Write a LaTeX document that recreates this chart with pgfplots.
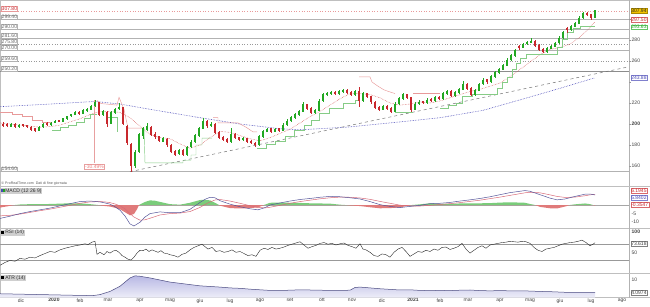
\documentclass[border=0pt]{standalone}
\usepackage{pgfplots}
\pgfplotsset{compat=1.18}
\usepackage{pgfplotstable}
\usepackage{fontspec}
\setmainfont{Liberation Sans}

\definecolor{cgreen}{HTML}{22A822}
\definecolor{cred}{HTML}{C8282D}
\definecolor{sred}{HTML}{E89A9A}
\definecolor{sgreen}{HTML}{86CC86}
\definecolor{mared}{HTML}{D04848}
\definecolor{mablue}{HTML}{4A4AB8}
\definecolor{macdblue}{HTML}{55559A}
\definecolor{sigred}{HTML}{D86A78}
\definecolor{hgreen}{HTML}{7ACC7A}
\definecolor{hred}{HTML}{E07A7A}
\definecolor{atrfill}{HTML}{B8B8E4}
\definecolor{atrline}{HTML}{4A4A80}
\definecolor{lblgray}{HTML}{CFCFCF}
\definecolor{ylw}{HTML}{F2C200}
\definecolor{pinkm}{HTML}{E8A0A0}

% up candles (close >= open)
\pgfplotstableread{
x o h l c
11 197.8 201 197 199.5
19 197 200.3 196.2 199
39 193.8 198 193 197
43 197 201 196.3 200
51 199 202 198.5 201
55 201 204 200.5 203
63 202.5 206 202 205
67 205 208 204.2 207
71 207.5 210 206.5 209
75 209 212 208.2 211
83 210 214 209.3 213
87 213.5 215.5 211.8 214
91 214 218.2 213.3 217
95 217 222.4 216.2 221
103 209 213.5 208 212
111 200.5 212 200 211
115 211 215.5 210 214
119 214.5 220 213.5 216
135 160 175.5 158 173
139 173.5 191.5 172 190
143 189 197.5 186 196
147 195 201 193.5 198
163 183.5 188 182.5 186
179 171.5 176.5 170.5 175
187 171 179.5 170 178
191 178 184.5 177 183
195 183 190.5 182 189
199 189 197.5 188 196
203 196 205.7 195 203
211 198 201.5 196.8 200
231 183 196 182 190
243 185 187.5 183.8 186
259 180 189.5 179.5 188
263 188 194.5 187 193
267 193 196.5 192 195
275 193 196.5 192 195
283 194 200.5 193.2 199
287 199 204.5 198 203
291 203 207.5 202 206
295 206 210.5 205 209
299 209 213.5 208 212
303 212 220.5 211 219
315 211 214.5 209.8 213
319 213 223.5 212 222
323 222 229.5 221 228
327 228 230.5 226.5 229
331 229 231.5 227.8 230
339 229 232.3 228 231
343 231 233.5 230 232
355 228 232.5 227 231
363 222 230.5 221 229
383 214 218.5 213 217
395 212 220.5 211 219
399 219 225.5 218 224
403 224 229.5 223 228
415 214 220.5 213 219
419 219 222.5 218 221
427 220 224.5 219 223
435 222 226.5 221 225
443 224 230.5 223 229
447 229 232.5 228 231
455 227 231.5 226 230
459 230 234.5 229 233
463 233 241 232 238
475 228 233.5 227 232
479 232 239.5 231 238
483 238 243.5 237 242
491 240 246.5 239 245
495 245 250.5 244 249
499 249 253.5 248 252
503 252 257.5 251 256
507 256 262.5 255 261
511 261 266.5 260 265
515 265 271.5 264 270
523 273 277.5 272 276
527 276.5 279.5 275 278
531 278 282 277 279
547 269 273.5 268 272
551 272 275.5 271 274
555 274 278.5 273 277
559 277 283.5 276 282
563 282 288.5 281 287
571 290 294.5 289 293
575 293 297.5 292 296
579 296 302.5 295 301
583 301 306.5 300 305
595 301 308.5 300.5 307.94
}\candup

% down candles (close < open)
\pgfplotstableread{
x o h l c
3 200 201.5 197.5 199
7 199.5 200.5 196.8 198
15 199.8 200.5 196 197
23 199.5 200.4 197 198
27 198.3 199 196 197
31 197.2 198 193.8 195
35 195.5 196 192.5 194
47 200.5 201.5 198 199
59 203.3 204.2 201.5 202.5
79 211.5 212.3 208.8 210
99 220.5 221 207.5 209
107 211.5 212.2 197 200
123 215.5 216.5 199 200
127 198 199 180 182
131 181 182 154.6 160
151 197 198 188.5 190
155 190.5 192 186 188
159 188 189 182.5 184
167 185.5 186.5 178.5 180
171 180 181 172.5 174
175 174 175 169.5 171
183 175 176 169.5 171
207 202.5 204 196.5 198
215 200 201 190.5 192
219 192 193 185.5 187
223 187.5 188.5 184 185
227 185.5 186.5 181.5 183
235 190 191 185.5 187
239 187 188 184 185
247 186 187 181.5 183
251 183.5 184.5 180.5 182
255 182 183 178 180
271 195.5 196.5 191.5 193
279 195.5 196.5 192.8 194
307 218.5 219.5 213.5 215
311 215 216 209.5 211
335 230.2 231 227.5 229
347 232 233 228.8 230
351 230 231 226.5 228
359 231 235 216 222
367 229 230 224.5 226
371 226 227 219.5 221
375 221 222 214.5 216
379 216 217 212.5 214
387 217 218 213.5 215
391 215 216 210.5 212
407 228 229 223.5 225
411 225 226 211 214
423 221.3 222.3 218.8 220
431 223.3 224.3 220.8 222
439 225.3 226.3 222.8 224
451 231 232 225.5 227
467 238 239 232.5 234
471 234 235 226.5 228
487 242.3 243.3 238.5 240
519 274.2 275.2 270.5 273
535 279 280 273.5 275
539 275 276 269.5 271
543 271 272 267.5 269
567 291 292 286.5 290
587 305.3 306.5 302.8 304
591 304 305 299.5 301
}\canddn

\tikzset{
  rlab/.style={anchor=west, inner sep=0.5pt, text=black!75, font=\fontsize{5}{6}\selectfont},
  rbox/.style={anchor=west, inner sep=0.6pt, draw, fill=white, line width=0.3pt, font=\fontsize{5}{6}\selectfont},
  llab/.style={anchor=south west, inner sep=0.6pt, draw=black!30, line width=0.3pt, fill=white, text=black!60, font=\fontsize{5}{6}\selectfont},
  plab/.style={anchor=north west, fill=lblgray, inner sep=0.8pt, text=black!80, font=\fontsize{5}{6}\selectfont},
}
\pgfplotsset{
  panel/.style={scale only axis, width=650pt, xmin=0, xmax=650, clip=false,
    axis line style={draw=black!25, line width=0.4pt}, xtick=\empty, ytick=\empty, anchor=south west},
  lvl/.style={black!30, line width=1pt},
  lvld/.style={black!40, dotted, line width=0.6pt},
  candlewick/.style={only marks, mark=text, text mark={}, forget plot,
    error bars/.cd, y dir=both, y explicit, error mark=none, error bar style={draw=#1, line width=0.45pt, solid}},
  candlebody/.style={only marks, mark=text, text mark={}, forget plot,
    error bars/.cd, y dir=both, y explicit, error mark=none, error bar style={draw=#1, line width=2.0pt, solid}},
}

\begin{document}
\begin{tikzpicture}[font=\fontsize{5}{6}\selectfont]
\useasboundingbox (0,0) rectangle (650pt,306pt);

% ================= MAIN PRICE PANEL =================
\begin{axis}[panel, at={(0pt,119.5pt)}, height=186.5pt, ymin=140.48, ymax=318.1]
% horizontal levels
\addplot[lvl] coordinates {(0,299.4)(629,299.4)};
\addplot[lvl] coordinates {(0,290)(629,290)};
\addplot[lvl] coordinates {(0,281.6)(629,281.6)};
\addplot[lvld] coordinates {(0,275.8)(629,275.8)};
\addplot[lvl] coordinates {(0,270)(629,270)};
\addplot[lvld] coordinates {(0,259.6)(629,259.6)};
\addplot[black!45, line width=1.1pt] coordinates {(0,250.2)(629,250.2)};
\addplot[lvl] coordinates {(0,154.6)(629,154.6)};
\addplot[sred, dotted, line width=0.6pt] coordinates {(0,307.8)(629,307.8)};

% long moving average (blue dotted)
\addplot[mablue, densely dotted, line width=0.6pt] coordinates {
(0,216.5)(50,219)(95,221.5)(120,219)(150,214)(200,206)(240,200)(280,195.5)(300,194.5)
(347,197)(400,202)(440,206)(483,213)(520,223)(560,234)(595,244)};

% trend line (gray dashed)
\addplot[black!55, dashed, line width=0.5pt] coordinates {(130,154.6)(628,254.3)};

% short moving average (red dotted)
\addplot[mared, densely dotted, line width=0.5pt] coordinates {
(0,201)(10,200)(20,199)(30,198)(40,197)(50,197.5)(60,199)(70,202)(80,205)(90,209)
(100,212)(110,212)(120,211)(130,206)(140,198)(150,190)(160,187)(170,186)(180,181)(190,177)
(200,180)(210,187)(220,193)(230,192)(240,189)(250,186)(260,184)(270,187)(280,191)(290,195)
(300,201)(310,207)(320,212)(330,218)(340,224)(350,229)(360,229)(370,228)(380,225)(390,220)
(400,218)(410,219)(420,221)(430,220)(440,222)(450,225)(460,228)(470,231)(480,233)(490,236)
(500,239)(510,245)(520,252)(530,259)(540,266)(550,271)(560,273)(570,276)(580,283)(590,292)(595,297.5)};

% trailing step lines
\addplot[sred, line width=0.45pt] coordinates {(0,211.5)(12,211.5)(12,209.5)(22,209.5)(22,207)(32,207)(32,204)(42,204)(42,202)(52,202)};
\addplot[sgreen, line width=0.45pt] coordinates {(52,194.3)(60,194.3)(60,196.5)(68,196.5)(68,199)(76,199)(76,202)(84,202)(84,205.5)(90,205.5)(90,209)(97,209)};
\addplot[sred, line width=0.45pt] coordinates {(97,222.4)(101,219.5)(117,218)(119,225.5)(124,214)(128,196)(144,196)};
\addplot[sgreen, line width=0.45pt] coordinates {(108,206)(117,206)(117,192)};
\addplot[sgreen, line width=0.45pt] coordinates {(144,196)(145,163)(183,163)(183,165.5)(191,165.5)(191,170.5)(196,170.5)(196,180)(202,180)(202,186.5)(212,186.5)};
\addplot[sred, line width=0.45pt] coordinates {(213,206)(218,206)(218,201)(238,201)(246,197)(253,192.5)(257,192.5)};
\addplot[sgreen, line width=0.45pt] coordinates {(257,177)(266,177)(266,181)(275,181)(275,184)(285,184)(285,188)(294,188)(294,194)(304,194)(304,199)(311,199)(311,204)(319,204)(319,210)(329,210)(329,215)(343,215)(343,220)(355,220)(355,223)(359,223)};
\addplot[sred, line width=0.45pt] coordinates {(359,244.8)(370,244.8)(372,240)(378,236)(384,232.5)(390,230.5)(395,229)};
\addplot[sgreen, line width=0.45pt] coordinates {(395,211.4)(413,211.4)};
\addplot[sred, line width=0.45pt] coordinates {(413,229.5)(440,229.5)};
\addplot[sgreen, line width=0.45pt] coordinates {(440,215)(448,215)(448,218)(456,218)(456,220)(462,220)(462,226)(472,226)(472,228)(497,228)(497,234)(502,234)(502,240)(507,240)(507,245)(512,245)(512,252)(516,252)(516,258)(520,258)(520,263)(526,263)(526,266)(557,266)(557,273)(562,273)(562,281)(567,281)(567,287)(573,287)(573,291)(580,291)(580,293.6)(595,293.6)};

% measurement line
\addplot[pinkm, line width=0.5pt] coordinates {(94,222.4)(94,162.9)};

% candlesticks
\addplot[candlewick=cgreen] table[x=x, y expr={(\thisrow{h}+\thisrow{l})/2}, y error expr={(\thisrow{h}-\thisrow{l})/2}] {\candup};
\addplot[candlewick=cred] table[x=x, y expr={(\thisrow{h}+\thisrow{l})/2}, y error expr={(\thisrow{h}-\thisrow{l})/2}] {\canddn};
\addplot[candlebody=cgreen] table[x=x, y expr={(\thisrow{o}+\thisrow{c})/2}, y error expr={(\thisrow{c}-\thisrow{o})/2+0.3}] {\candup};
\addplot[candlebody=cred] table[x=x, y expr={(\thisrow{o}+\thisrow{c})/2}, y error expr={(\thisrow{o}-\thisrow{c})/2+0.3}] {\canddn};

% scale separator and ticks
\draw[black!30, line width=0.4pt] (axis cs:629,140.48) -- (axis cs:629,318.1);
\pgfplotsinvokeforeach{160,180,200,220,240,260,280,300}{\draw[black!40, line width=0.3pt] (axis cs:629,#1) -- (axis cs:631,#1);}

% right price labels
\node[rlab] at (axis cs:631,280) {280};
\node[rlab] at (axis cs:631,260) {260};
\node[rlab] at (axis cs:631,220) {220};
\node[rlab, font=\fontsize{5}{6}\selectfont\bfseries] at (axis cs:631,200) {200};
\node[rlab] at (axis cs:631,180) {180};
\node[rlab] at (axis cs:631,160) {160};
\node[rbox, fill=ylw, draw=ylw!70!black, text=black!85] at (axis cs:630.5,307.94) {307.94};
\node[rbox, draw=cred!70, text=cred] at (axis cs:630.5,299.6) {297.50};
\node[rbox, draw=cgreen!70, text=cgreen] at (axis cs:630.5,292.2) {293.63};
\node[rbox, draw=mablue!70, text=mablue] at (axis cs:630.5,244.3) {243.88};

% left level labels
\node[llab, draw=sred, text=cred] at (axis cs:1,307.8) {307.80};
\node[llab] at (axis cs:1,299.4) {299.40};
\node[llab] at (axis cs:1,290) {290.00};
\node[llab] at (axis cs:1,281.6) {281.60};
\node[llab] at (axis cs:1,275.8) {275.80};
\node[llab] at (axis cs:1,270) {270.00};
\node[llab] at (axis cs:1,259.6) {259.60};
\node[llab] at (axis cs:1,250.2) {250.20};
\node[llab] at (axis cs:1,154.6) {154.60};

% measurement box
\node[draw=pinkm, fill=white, text=pinkm!80!red, inner sep=0.8pt, line width=0.4pt, font=\fontsize{5}{6}\selectfont] at (axis cs:94.5,159) {-30.49\%};

% copyright
\node[anchor=west, inner sep=0.3pt, text=black!65, font=\fontsize{3.6}{4}\selectfont] at (axis cs:1,143.6) {\copyright\ ProRealTime.com\ \ Dati di fine giornata};
\end{axis}

% ================= MACD PANEL =================
\begin{axis}[panel, at={(0pt,78pt)}, height=41.5pt, ymin=-13.37, ymax=10.76]
\addplot[black!35, line width=0.5pt] coordinates {(0,0)(629,0)};
\addplot[fill=hgreen, draw=none] coordinates {
(15,0)(20,0.3)(30,0.5)(40,0.5)(50,0.6)(60,0.8)(70,1.0)(80,1.0)(90,0.5)(98,0)
(139,0)(145,1.8)(150,2.7)(155,2.5)(160,1.8)(170,0.5)(180,0.2)(190,1.3)(200,2.9)(205,3.0)(210,2.7)(215,1.3)(219,0)
(264,0)(270,1.3)(280,1.4)(290,1.3)(300,1.2)(310,1.0)(320,0.9)(330,0.8)(340,0.2)(345,0)
(412,0)(420,0.4)(430,1.0)(440,0.7)(450,0.7)(460,0.9)(470,0.9)(480,1.0)(490,1.1)(500,1.4)(510,1.6)(520,1.4)(525,1.3)(530,0.6)(535,0)
(570,0)(575,0.4)(585,0.9)(590,0.5)(593,0)};
\addplot[fill=hred, draw=none] coordinates {
(0,0)(0,-1.5)(10,-0.5)(15,0)
(98,0)(100,-0.2)(105,-0.6)(110,-0.9)(115,-1.6)(120,-2.5)(125,-4.2)(130,-6.0)(134,-5.2)(137,-2.5)(139,0)
(219,0)(220,-0.4)(230,-1.8)(240,-2.0)(250,-1.8)(258,-1.4)(264,0)
(345,0)(350,-0.3)(360,-0.6)(370,-1.3)(380,-1.9)(390,-1.8)(400,-1.4)(410,-0.2)(412,0)
(535,0)(540,-1.1)(550,-1.9)(557,-2.0)(565,-0.9)(570,0)
(593,0)(595,-0.35)(595,0)};
% signal
\addplot[sigred, line width=0.5pt] coordinates {
(0,-6.3)(10,-6.0)(20,-5.3)(30,-4.3)(40,-3.3)(50,-2.4)(60,-1.3)(70,-0.2)(80,1.0)(90,1.8)
(100,2.0)(105,1.8)(110,1.4)(115,0.6)(120,-0.5)(125,-2.2)(130,-5.0)(134,-7.0)(140,-8.8)(145,-8.6)
(150,-7.7)(160,-5.8)(170,-5.0)(180,-4.7)(190,-3.8)(200,-1.4)(205,0.3)(210,1.8)(215,2.9)(220,3.2)
(230,2.3)(240,1.0)(250,-0.4)(258,-1.4)(265,-1.7)(270,-1.3)(280,-0.2)(290,1.0)(300,2.0)(310,2.8)
(320,3.6)(330,4.2)(340,4.6)(350,4.5)(360,4.1)(370,3.3)(380,2.1)(390,1.0)(400,-0.1)(410,-0.6)
(420,-0.6)(430,-0.2)(440,0.3)(450,0.8)(460,1.4)(470,2.1)(480,2.8)(490,3.7)(500,4.6)(510,5.6)
(520,6.6)(525,7.1)(530,7.4)(540,7.1)(550,5.9)(557,5.0)(565,4.4)(575,4.6)(585,5.4)(590,5.9)(595,6.19)};
% macd
\addplot[macdblue, line width=0.5pt] coordinates {
(0,-7.8)(10,-6.5)(20,-5.0)(30,-3.8)(40,-2.8)(50,-1.8)(60,-0.5)(70,0.8)(80,2.0)(90,2.3)
(100,1.8)(105,1.2)(110,0.5)(115,-1.0)(120,-3.0)(125,-6.4)(130,-11.0)(134,-12.2)(140,-10.0)(145,-7.0)
(150,-5.0)(160,-4.0)(170,-4.5)(180,-4.5)(190,-2.5)(200,1.5)(205,3.3)(210,4.5)(215,4.2)(220,2.5)
(230,0.5)(240,-1.0)(250,-2.2)(258,-2.8)(265,-1.5)(270,0.0)(280,1.2)(290,2.3)(300,3.2)(310,3.8)
(320,4.5)(330,5.0)(340,4.8)(350,4.2)(360,3.5)(370,2.0)(380,0.2)(390,-0.8)(400,-1.5)(410,-0.8)
(420,-0.2)(430,0.8)(440,1.0)(450,1.5)(460,2.3)(470,3.0)(480,3.8)(490,4.8)(500,6.0)(510,7.2)
(520,8.0)(525,8.4)(530,8.0)(540,6.0)(550,4.0)(557,3.0)(565,3.5)(575,5.0)(585,6.3)(590,6.4)(595,5.84)};
\draw[black!30, line width=0.4pt] (axis cs:629,-13.37) -- (axis cs:629,10.76);
\node[plab] at (axis cs:0.5,10.2) {\textcolor{mablue}{\rule{1.5pt}{3.2pt}}\textcolor{cgreen}{\rule{1.5pt}{3.2pt}}\,MACD (12 26 9)};
\node[rbox, draw=cred!70, text=cred] at (axis cs:630.5,8.3) {6.1945};
\node[rbox, draw=mablue!70, text=mablue] at (axis cs:630.5,4.3) {5.8402};
\node[rbox, draw=cred!70, text=cred] at (axis cs:630.5,0.3) {-0.3547};
\node[rlab] at (axis cs:631,-5) {-5};
\node[rlab] at (axis cs:631,-10) {-10};
\end{axis}

% ================= RSI PANEL =================
\begin{axis}[panel, at={(0pt,32.5pt)}, height=45.5pt, ymin=-2.2, ymax=109.85]
\addplot[black!40, line width=0.8pt] coordinates {(0,70)(629,70)};
\addplot[black!40, line width=0.8pt] coordinates {(0,30)(629,30)};
\addplot[black!85, line width=0.4pt] coordinates {
(0,18)(5,25)(10,30)(15,28)(20,35)(25,33)(30,38)(35,36)(40,42)(45,47)(50,52)(55,50)(60,56)(65,60)
(70,63)(75,66)(80,68)(85,71)(88,69)(92,75)(95,77)(97,45)(100,50)(104,44)(107,52)(110,48)(113,53)
(116,55)(119,50)(122,42)(125,38)(128,33)(131,31)(134,38)(137,48)(140,55)(143,54)(146,58)(149,52)
(152,56)(155,53)(158,50)(161,54)(164,48)(167,47)(170,44)(174,42)(178,38)(182,45)(186,48)(190,56)
(194,62)(198,66)(202,70)(205,64)(208,58)(212,62)(216,52)(220,54)(224,50)(228,52)(232,56)(236,50)
(240,52)(244,47)(248,42)(252,44)(256,40)(260,55)(264,60)(268,57)(272,62)(276,58)(280,60)(284,63)
(288,67)(292,70)(296,73)(300,76)(304,68)(308,60)(312,64)(316,67)(320,72)(324,74)(328,70)(332,72)
(336,68)(340,71)(344,73)(348,67)(352,64)(356,60)(360,71)(363,58)(366,56)(370,50)(374,42)(378,40)
(382,46)(386,44)(390,38)(394,50)(398,58)(402,62)(406,52)(410,40)(414,46)(418,52)(422,50)(426,55)
(430,52)(434,58)(438,55)(442,62)(446,63)(450,57)(454,60)(458,64)(462,72)(466,58)(470,48)(474,55)
(478,62)(482,66)(486,60)(490,68)(494,70)(498,72)(502,74)(506,75)(510,77)(514,76)(518,75)(522,77)
(526,76)(530,72)(534,62)(538,55)(542,52)(546,58)(550,60)(554,62)(558,66)(562,70)(566,72)(570,74)
(574,75)(578,77)(582,80)(586,74)(590,66)(593,70)(595,73.6)};
\draw[black!30, line width=0.4pt] (axis cs:629,-2.2) -- (axis cs:629,109.85);
\node[plab] at (axis cs:0.5,106.5) {\textcolor{black}{\rule{3pt}{3.2pt}}\,RSI (14)};
\node[rlab, font=\fontsize{5}{6}\selectfont\bfseries] at (axis cs:631,100) {100};
\node[rbox, draw=black!50, text=black!75] at (axis cs:630.5,71.5) {73.618};
\node[rlab] at (axis cs:631,50) {50};
\end{axis}

% ================= ATR PANEL =================
\begin{axis}[panel, at={(0pt,8.5pt)}, height=24pt, ymin=1.59, ymax=13.13,
  xtick={21,54,80,108,140,170,200,230,260,290,322,352,382,413,440,468,500,530,560,591,622},
  xticklabels={dic,\textbf{2020},feb,mar,apr,mag,giu,lug,ago,set,ott,nov,dic,\textbf{2021},feb,mar,apr,mag,giu,lug,ago},
  major tick length=0pt,
  xticklabel style={font=\fontsize{5}{6}\selectfont, text=black!75, inner sep=0.8pt}]
\addplot[draw=none, top color=atrfill, bottom color=atrfill!25] coordinates {
(0,1.59)(0,3.4)(20,3.2)(40,3.0)(60,2.8)(80,2.6)(93,2.5)(100,3.0)(110,4.5)(120,7.0)(125,9.0)(130,11.0)
(135,12.0)(140,11.8)(150,11.0)(160,10.0)(170,9.0)(180,8.4)(190,7.8)(200,7.2)(210,6.9)(220,6.6)
(230,6.2)(240,6.0)(250,5.6)(260,5.3)(270,5.0)(280,5.0)(290,5.1)(300,5.3)(310,5.2)(320,5.1)(330,5.0)
(340,5.0)(350,5.1)(355,6.4)(360,6.6)(370,6.2)(380,5.8)(390,5.5)(400,5.2)(410,5.3)(420,5.0)(430,4.9)
(440,5.0)(450,4.9)(460,5.1)(470,5.2)(480,4.9)(490,4.8)(500,4.9)(510,4.8)(520,4.8)(530,4.7)(540,4.5)
(550,4.4)(560,4.2)(570,4.0)(580,4.0)(590,4.1)(595,4.1)(595,1.59)};
\addplot[atrline, line width=0.5pt] coordinates {
(0,3.4)(20,3.2)(40,3.0)(60,2.8)(80,2.6)(93,2.5)(100,3.0)(110,4.5)(120,7.0)(125,9.0)(130,11.0)
(135,12.0)(140,11.8)(150,11.0)(160,10.0)(170,9.0)(180,8.4)(190,7.8)(200,7.2)(210,6.9)(220,6.6)
(230,6.2)(240,6.0)(250,5.6)(260,5.3)(270,5.0)(280,5.0)(290,5.1)(300,5.3)(310,5.2)(320,5.1)(330,5.0)
(340,5.0)(350,5.1)(355,6.4)(360,6.6)(370,6.2)(380,5.8)(390,5.5)(400,5.2)(410,5.3)(420,5.0)(430,4.9)
(440,5.0)(450,4.9)(460,5.1)(470,5.2)(480,4.9)(490,4.8)(500,4.9)(510,4.8)(520,4.8)(530,4.7)(540,4.5)
(550,4.4)(560,4.2)(570,4.0)(580,4.0)(590,4.1)(595,4.1)};
\draw[black!30, line width=0.4pt] (axis cs:629,1.59) -- (axis cs:629,13.13);
\node[plab] at (axis cs:0.5,12.6) {\textcolor{black}{\rule{3pt}{3.2pt}}\,ATR (14)};
\node[rlab] at (axis cs:631,10) {10};
\node[rbox, draw=black!50, text=black!75] at (axis cs:630.5,4.1) {4.0974};
\end{axis}
\end{tikzpicture}
\end{document}
